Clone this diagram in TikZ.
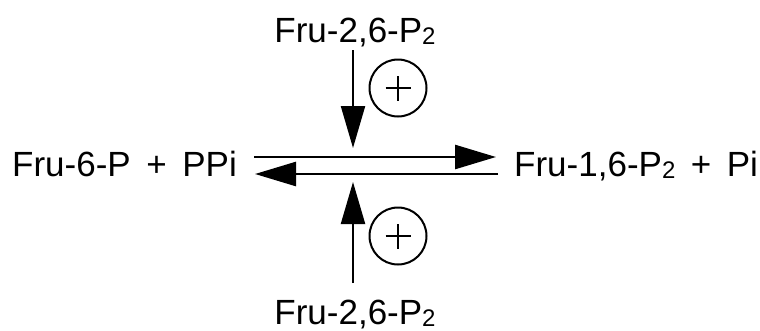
\documentclass[tikz,border=0pt]{standalone}
\usepackage{fontspec}
\setmainfont{Liberation Sans}
\usetikzlibrary{arrows.meta}
\newcommand{\sub}[1]{{\fontsize{24}{24}\selectfont\raisebox{-2pt}{#1}}}
\begin{document}
\begin{tikzpicture}[x=1pt,y=-1pt,
  lbl/.style={inner sep=0pt,font=\fontsize{35}{40}\selectfont},
  rxn/.style={line width=2.6pt,-{Triangle[length=41pt,width=24pt]}},
  eff/.style={line width=2.2pt,-{Triangle[length=42pt,width=24pt]}},
  act/.style={circle,draw,line width=2pt,minimum size=57pt,inner sep=0pt}]
\useasboundingbox (0,0) rectangle (760,330);
\node[lbl,anchor=base west] (sub) at (12,176) {Fru-6-P\, + \,PPi};
\node[lbl,anchor=base west] (prod) at (514,176) {Fru-1,6-P\sub{2}\, + \,Pi};
\node[lbl,anchor=base] (efftop) at (355,42) {Fru-2,6-P\sub{2}};
\node[lbl,anchor=base] (effbot) at (355,324) {Fru-2,6-P\sub{2}};
\coordinate (a1) at (254,157);
\coordinate (b1) at (496,157);
\coordinate (a2) at (498,174);
\coordinate (b2) at (255,174);
\coordinate (t0) at (353,50);
\coordinate (t1) at (353,148);
\coordinate (u0) at (353,283);
\coordinate (u1) at (353,182);
\draw[rxn] (a1) -- (b1);
\draw[rxn] (a2) -- (b2);
\draw[eff] (t0) -- (t1);
\draw[eff] (u0) -- (u1);
\node[act] (pt) at (398,88) {};
\node[act] (pb) at (398,236) {};
\foreach \c in {pt,pb}{
  \draw[line width=2pt] ([xshift=-12.5pt]\c.center) -- ([xshift=12.5pt]\c.center);
  \draw[line width=2pt] ([yshift=-12.5pt]\c.center) -- ([yshift=12.5pt]\c.center);
}
\end{tikzpicture}
\end{document}
